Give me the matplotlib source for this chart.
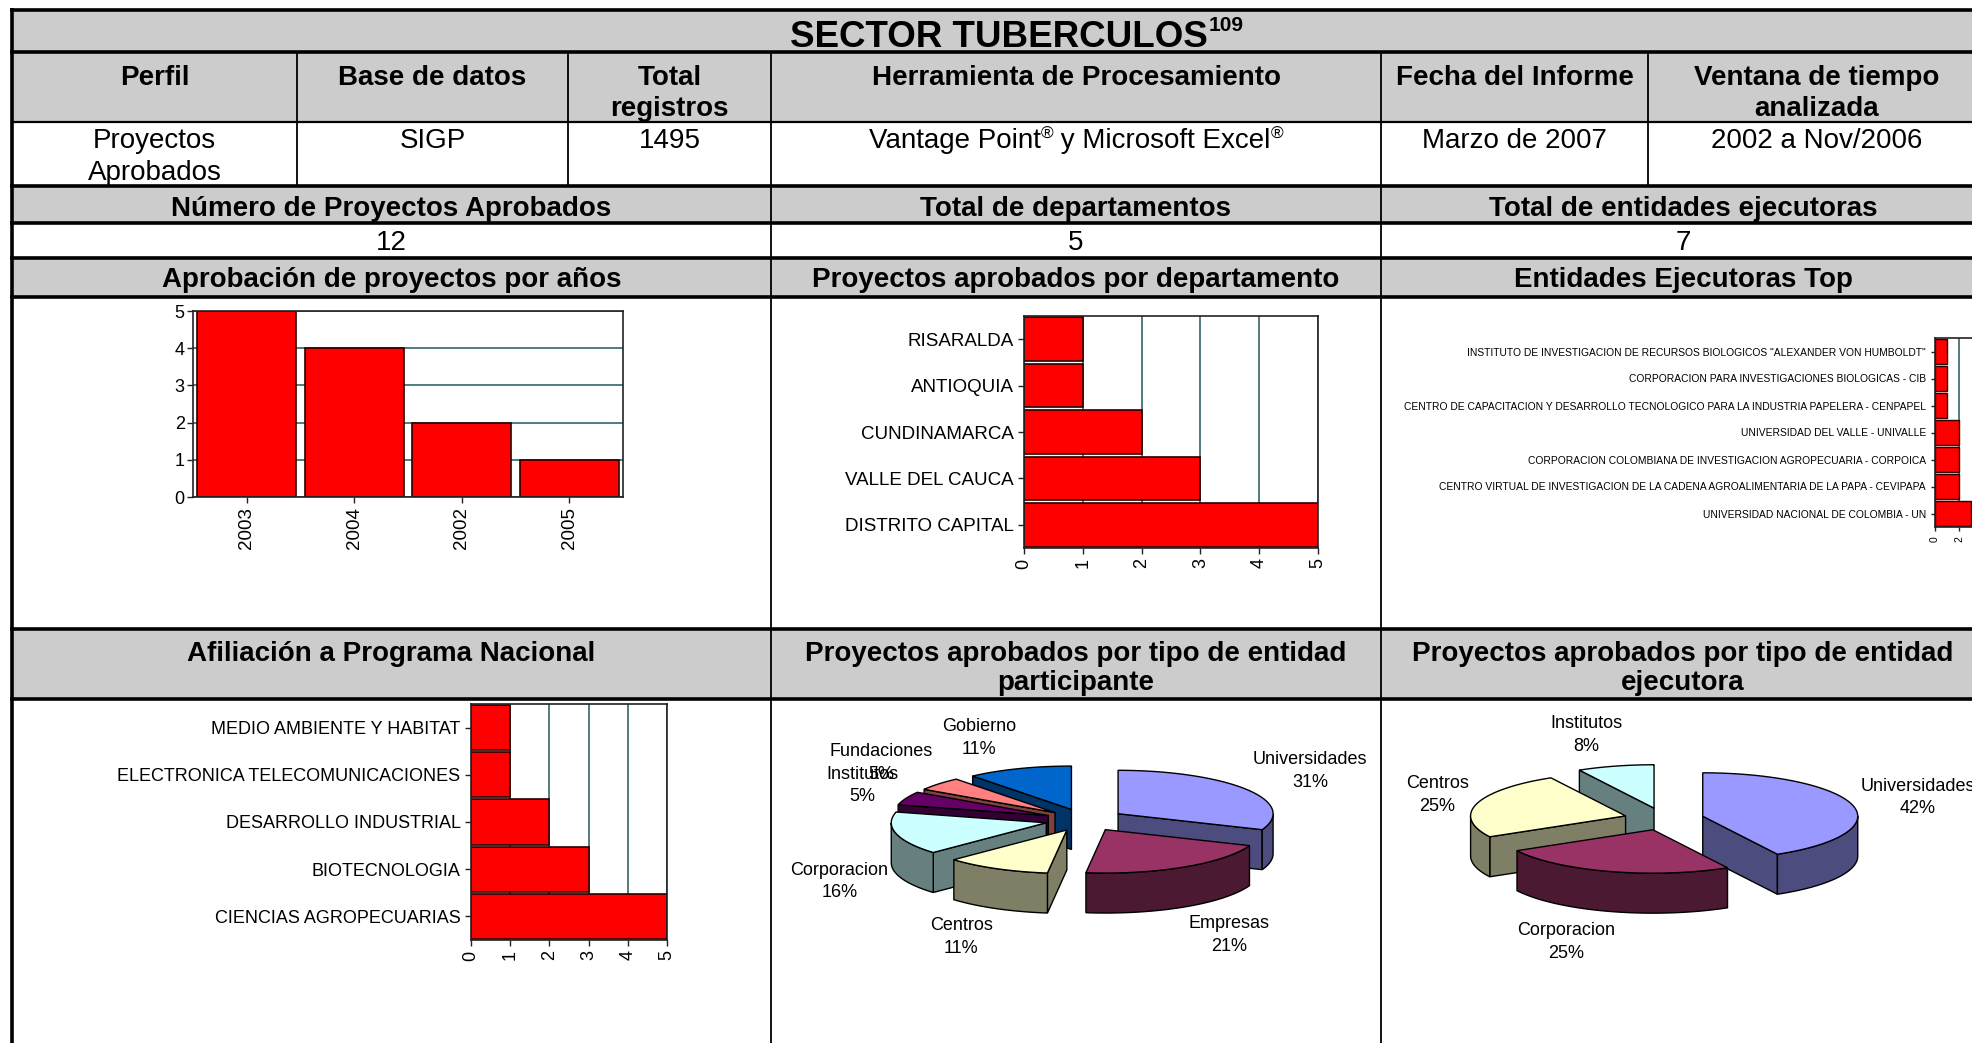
import matplotlib
matplotlib.use("Agg")
import matplotlib.pyplot as plt
import numpy as np
from matplotlib.patches import Rectangle, Polygon

plt.rcParams['font.family'] = ['Liberation Sans', 'DejaVu Sans']

# ---------------- data ----------------
titulo = "SECTOR TUBERCULOS"
titulo_sup = "109"
encabezados = ["Perfil", "Base de datos", "Total\nregistros", "Herramienta de Procesamiento",
               "Fecha del Informe", "Ventana de tiempo\nanalizada"]
valores_fila = ["Proyectos\nAprobados", "SIGP", "1495", "Vantage Point|®| y Microsoft Excel|®",
                "Marzo de 2007", "2002 a Nov/2006"]
resumen_titulos = ["Número de Proyectos Aprobados", "Total de departamentos", "Total de entidades ejecutoras"]
resumen_valores = ["12", "5", "7"]
graf_titulos_1 = ["Aprobación de proyectos por años", "Proyectos aprobados por departamento",
                  "Entidades Ejecutoras Top"]
graf_titulos_2 = ["Afiliación a Programa Nacional", "Proyectos aprobados por tipo de entidad\nparticipante",
                  "Proyectos aprobados por tipo de entidad\nejecutora"]

anios = ["2003", "2004", "2002", "2005"]
anios_proy = [5, 4, 2, 1]

departamentos = ["RISARALDA", "ANTIOQUIA", "CUNDINAMARCA", "VALLE DEL CAUCA", "DISTRITO CAPITAL"]
dep_proy = [1, 1, 2, 3, 5]

entidades = ['INSTITUTO DE INVESTIGACION DE RECURSOS BIOLOGICOS "ALEXANDER VON HUMBOLDT"',
             "CORPORACION PARA INVESTIGACIONES BIOLOGICAS - CIB",
             "CENTRO DE CAPACITACION Y DESARROLLO TECNOLOGICO PARA LA INDUSTRIA PAPELERA - CENPAPEL",
             "UNIVERSIDAD DEL VALLE - UNIVALLE",
             "CORPORACION COLOMBIANA DE INVESTIGACION AGROPECUARIA - CORPOICA",
             "CENTRO VIRTUAL DE INVESTIGACION DE LA CADENA AGROALIMENTARIA DE LA PAPA - CEVIPAPA",
             "UNIVERSIDAD NACIONAL DE COLOMBIA - UN"]
ent_proy = [1, 1, 1, 2, 2, 2, 3]

programas = ["MEDIO AMBIENTE Y HABITAT", "ELECTRONICA TELECOMUNICACIONES", "DESARROLLO INDUSTRIAL",
             "BIOTECNOLOGIA", "CIENCIAS AGROPECUARIAS"]
prog_proy = [1, 1, 2, 3, 5]

part_tipos = ["Universidades", "Empresas", "Centros", "Corporacion", "Institutos", "Fundaciones", "Gobierno"]
part_pct = [31, 21, 11, 16, 5, 5, 11]
part_colores = ["#9999FF", "#993366", "#FFFFCC", "#CCFFFF", "#660066", "#FF8080", "#0066CC"]

ejec_tipos = ["Universidades", "Corporacion", "Centros", "Institutos"]
ejec_pct = [42, 25, 25, 8]
ejec_colores = ["#9999FF", "#993366", "#FFFFCC", "#CCFFFF"]

# ---------------- layout ----------------
W, H = 1972, 1043
fig = plt.figure(figsize=(W / 100, H / 100), dpi=100)
bg = fig.add_axes([0, 0, 1, 1])
bg.set_xlim(0, W)
bg.set_ylim(H, 0)
bg.axis('off')

GRAY = "#cccccc"
L, R = 12, 1985
cols6 = [L, 297, 568, 771, 1381, 1648, R]
cols3 = [L, 771, 1381, R]
gray_rows = [(10, 52), (52, 122), (186, 223), (258, 297), (629, 699)]
for (t, b) in gray_rows:
    bg.add_patch(Rectangle((L, t), R - L, b - t, fc=GRAY, ec='none', zorder=0))

THICK = 2.6
THIN = 1.3
for y in [10, 52, 186, 223, 258, 297, 629, 699]:
    bg.plot([L - 2, R], [y, y], color='black', lw=THICK, solid_capstyle='butt', zorder=1)
bg.plot([L, R], [122, 122], color='black', lw=THIN + 0.3, zorder=1)
bg.plot([L, L], [8, H], color='black', lw=THICK, solid_capstyle='butt', zorder=1)
for x in cols6[1:-1]:
    bg.plot([x, x], [52, 186], color='black', lw=THIN, zorder=1)
for x in cols3[1:-1]:
    bg.plot([x, x], [186, H], color='black', lw=THIN, zorder=1)

renderer = fig.canvas.get_renderer()


def px(pt):
    return pt * 100 / 72


def T(x, yc, s, size=20, bold=False, **kw):
    base = yc + 0.358 * px(size)
    return bg.text(x, base, s, fontsize=size, fontweight='bold' if bold else 'normal',
                   ha='center', va='baseline', zorder=5, **kw)


def rich(xc, yc, parts, size=20, bold=False):
    """parts: list of (text, scale, raise_px); drawn side by side, centred on xc"""
    base = yc + 0.358 * px(size)
    objs, widths = [], []
    for s, sc, dy in parts:
        t = bg.text(0, base - dy, s, fontsize=size * sc, fontweight='bold' if bold else 'normal',
                    ha='left', va='baseline', zorder=5)
        widths.append(t.get_window_extent(renderer).width)
        objs.append(t)
    x0 = xc - sum(widths) / 2
    for o, w in zip(objs, widths):
        o.set_x(x0)
        x0 += w


# title
tt = bg.text((L + R) / 2, 47, titulo, fontsize=26.5, fontweight='bold', ha='center', va='baseline', zorder=5)
bb = tt.get_window_extent(renderer)
bg.text(bb.x1 + 1, 31, titulo_sup, fontsize=15, fontweight='bold', ha='left', va='baseline', zorder=5)

# header row
for i, h in enumerate(encabezados):
    xc = (cols6[i] + cols6[i + 1]) / 2
    for k, line in enumerate(h.split("\n")):
        T(xc, 75 + 31 * k, line, 20, True)

# value row
for i, v in enumerate(valores_fila):
    xc = (cols6[i] + cols6[i + 1]) / 2
    if "|" in v:
        segs = v.split("|")
        parts = [(s, 0.62 if s == "®" else 1.0, 9 if s == "®" else 0) for s in segs]
        rich(xc, 138, parts, 20)
    else:
        for k, line in enumerate(v.split("\n")):
            T(xc, 138 + 32 * k, line, 20, False)

for i in range(3):
    xc = (cols3[i] + cols3[i + 1]) / 2
    T(xc, 206, resumen_titulos[i], 20, True)
    T(xc, 240, resumen_valores[i], 20, False)
    T(xc, 277, graf_titulos_1[i], 20, True)
    for k, line in enumerate(graf_titulos_2[i].split("\n")):
        T(xc, 651 + 29 * k, line, 20, True)

# ---------------- bar charts ----------------
RED = "#FF0000"
EDGE = "#2a0000"
GRID = "#336666"


def axrect(l, t, r, b):
    return fig.add_axes([l / W, 1 - b / H, (r - l) / W, (b - t) / H])


def style(ax):
    for s in ax.spines.values():
        s.set_color('#222222')
        s.set_linewidth(1.2)
    ax.set_axisbelow(True)
    ax.tick_params(direction='out', length=4, width=1, color='#222222')


# chart 1: years
ax1 = axrect(193, 311, 623, 497)
ax1.bar(range(len(anios)), anios_proy, width=0.92, color=RED, edgecolor=EDGE, lw=1.2)
ax1.set_xlim(-0.5, len(anios) - 0.5)
ax1.set_ylim(0, 5)
ax1.set_yticks(range(0, 6))
ax1.set_yticklabels([str(v) for v in range(0, 6)], fontsize=13)
ax1.set_xticks(range(len(anios)))
ax1.set_xticklabels(anios, rotation=90, fontsize=13.5)
ax1.yaxis.grid(True, color=GRID, lw=1.2)
style(ax1)
ax1.tick_params(axis='y', pad=2)

# chart 2: departments
ax2 = axrect(1024, 316, 1318, 548)
ax2.barh(range(len(departamentos)), dep_proy, height=0.94, color=RED, edgecolor=EDGE, lw=1.2)
ax2.set_ylim(len(departamentos) - 0.5, -0.5)
ax2.set_xlim(0, 5)
ax2.set_yticks(range(len(departamentos)))
ax2.set_yticklabels(departamentos, fontsize=13.5)
ax2.set_xticks(range(0, 6))
ax2.set_xticklabels([str(v) for v in range(0, 6)], rotation=90, fontsize=13)
ax2.xaxis.grid(True, color=GRID, lw=1.2)
style(ax2)

# chart 3: executing entities
ax3 = axrect(1935, 338, 1983, 527)
ax3.barh(range(len(entidades)), ent_proy, height=0.96, color=RED, edgecolor=EDGE, lw=1)
ax3.set_ylim(len(entidades) - 0.5, -0.5)
ax3.set_xlim(0, 4)
ax3.set_yticks(range(len(entidades)))
ax3.set_yticklabels(entidades, fontsize=7.4)
ax3.set_xticks([0, 2, 4])
ax3.set_xticklabels(["0", "2", "4"], rotation=90, fontsize=7.5)
ax3.xaxis.grid(True, color=GRID, lw=1.2)
style(ax3)
ax3.tick_params(length=3)

# chart 4: national programs
ax4 = axrect(471, 704, 667, 940)
ax4.barh(range(len(programas)), prog_proy, height=0.96, color=RED, edgecolor=EDGE, lw=1.2)
ax4.set_ylim(len(programas) - 0.5, -0.5)
ax4.set_xlim(0, 5)
ax4.set_yticks(range(len(programas)))
ax4.set_yticklabels(programas, fontsize=13)
ax4.set_xticks(range(0, 6))
ax4.set_xticklabels([str(v) for v in range(0, 6)], rotation=90, fontsize=13)
ax4.xaxis.grid(True, color=GRID, lw=1.2)
style(ax4)


# ---------------- 3D pies ----------------
def darken(c):
    c = c.lstrip('#')
    r, g, b = (int(c[i:i + 2], 16) for i in (0, 2, 4))
    return '#%02x%02x%02x' % (r // 2, g // 2, b // 2)


def pie3d(values, colors, names, cx, cy, r=155, tilt=0.28, depth=40, expl=40, start=90):
    vals = np.asarray(values, float)
    fr = vals / vals.sum()
    edges = start - 360 * np.concatenate([[0], np.cumsum(fr)])
    sl = []
    for i in range(len(vals)):
        b, a = edges[i], edges[i + 1]
        m = (a + b) / 2
        mr = np.radians(m)
        ox = cx + expl * np.cos(mr)
        oy = cy - expl * tilt * np.sin(mr)
        sl.append((a, b, m, ox, oy))
    order = sorted(range(len(vals)), key=lambda i: np.sin(np.radians(sl[i][2])), reverse=True)
    for i in order:
        a, b, m, ox, oy = sl[i]
        top, side = colors[i], darken(colors[i])
        # radial faces
        for ang, vis in ((a, np.cos(np.radians(a)) > 1e-6), (b, np.cos(np.radians(b)) < -1e-6)):
            if vis:
                t = np.radians(ang)
                ex, ey = ox + r * np.cos(t), oy - r * tilt * np.sin(t)
                bg.add_patch(Polygon([(ox, oy), (ex, ey), (ex, ey + depth), (ox, oy + depth)],
                                     closed=True, fc=side, ec='black', lw=1, zorder=3))
        # outer front side
        th = np.radians(np.linspace(a, b, 300))
        idx = np.where(np.sin(th) < 0)[0]
        if len(idx):
            segs = np.split(idx, np.where(np.diff(idx) > 1)[0] + 1)
            for sg in segs:
                tt_ = th[sg]
                xs = ox + r * np.cos(tt_)
                ys = oy - r * tilt * np.sin(tt_)
                poly = np.column_stack([np.r_[xs, xs[::-1]], np.r_[ys, ys[::-1] + depth]])
                bg.add_patch(Polygon(poly, closed=True, fc=side, ec='black', lw=1, zorder=3))
        th = np.radians(np.linspace(a, b, 200))
        xs = ox + r * np.cos(th)
        ys = oy - r * tilt * np.sin(th)
        bg.add_patch(Polygon(np.column_stack([np.r_[ox, xs], np.r_[oy, ys]]), closed=True,
                             fc=top, ec='black', lw=1, zorder=3))
    # labels: inner edge just outside the exploded rim
    for i in range(len(vals)):
        m = np.radians(sl[i][2])
        t = bg.text(0, 0, "%s\n%d%%" % (names[i], round(values[i])), fontsize=13, ha='center',
                    va='center', linespacing=1.45, zorder=6)
        hw = t.get_window_extent(renderer).width / 2
        lx = cx + (r + expl + 8) * np.cos(m) + hw * np.clip(3 * np.cos(m), -1, 1)
        ly = cy - (r + expl + 76) * 0.32 * np.sin(m) + (depth if np.sin(m) < 0 else 0)
        t.set_position((lx, ly))


pie3d(part_pct, part_colores, part_tipos, 1085, 820)
pie3d(ejec_pct, ejec_colores, ejec_tipos, 1664, 819)

fig.savefig("out.png", dpi=100)
